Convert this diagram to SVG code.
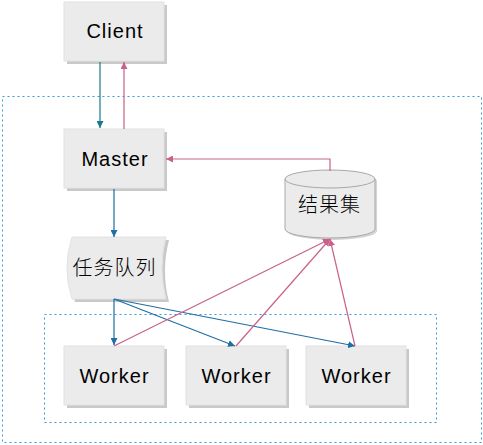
<svg xmlns="http://www.w3.org/2000/svg" width="483" height="445" viewBox="0 0 483 445">
<style>
.box{fill:#ebebeb;stroke:#e2e2e2;stroke-width:1}
.sh{fill:#c9c9c9}
.t{font-family:"Liberation Sans",Arial,sans-serif;font-size:20px;letter-spacing:1px;fill:#000;text-anchor:middle}
.c{font-family:"Noto Sans CJK SC",sans-serif;font-weight:300;font-size:20px;letter-spacing:1px;fill:#000;text-anchor:middle}
.dot{fill:none;stroke:#3a9ad9;stroke-width:1;stroke-dasharray:2 3}
.b{fill:none;stroke:#1f6fa5;stroke-width:1.2}
.tl{fill:none;stroke:#1a7a8c;stroke-width:1.2}
.p{fill:none;stroke:#c8628a;stroke-width:1.2}
</style>
<defs>
<marker id="ab" viewBox="0 0 10 10" refX="10" refY="5" markerWidth="7" markerHeight="7" markerUnits="userSpaceOnUse" orient="auto"><path d="M0,0L10,5L0,10z" fill="#1f6fa5"/></marker>
<marker id="at" viewBox="0 0 10 10" refX="10" refY="5" markerWidth="7" markerHeight="7" markerUnits="userSpaceOnUse" orient="auto"><path d="M0,0L10,5L0,10z" fill="#1a7a8c"/></marker>
<marker id="ap" viewBox="0 0 10 10" refX="10" refY="5" markerWidth="7" markerHeight="7" markerUnits="userSpaceOnUse" orient="auto"><path d="M0,0L10,5L0,10z" fill="#c8628a"/></marker>
</defs>
<rect class="dot" x="2.5" y="96.5" width="479" height="346"/>
<rect class="dot" x="44.5" y="314.5" width="392" height="108"/>
<g id="client"><rect class="sh" x="67" y="5" width="100" height="59"/><rect class="box" x="64" y="2" width="100" height="59"/><text class="t" x="115" y="38">Client</text></g>
<g id="master"><rect class="sh" x="67" y="132" width="100" height="59"/><rect class="box" x="64" y="129" width="100" height="59"/><text class="t" x="115" y="166">Master</text></g>
<g id="queue"><path class="sh" d="M75,240H169Q161,271 169,302H75Q65,271 75,240z"/><path class="box" d="M72,237H166Q158,268 166,299H72Q62,268 72,237z"/><text class="c" x="114.5" y="275">任务队列</text></g>
<g id="result"><path d="M287,181A45,9 0 0 1 377,181V231A45,9 0 0 1 287,231z" fill="#d4d4d4"/><path d="M285,179A45,9 0 0 1 375,179V229A45,9 0 0 1 285,229z" fill="#ebebeb" stroke="#a8a8a8" stroke-width="1"/><path d="M285,179A45,9 0 0 0 375,179" fill="none" stroke="#a8a8a8" stroke-width="1"/><text class="c" x="329.5" y="212">结果集</text></g>
<g id="worker1"><rect class="sh" x="67" y="349" width="100" height="59"/><rect class="box" x="64" y="346" width="100" height="59"/><text class="t" x="114.5" y="383">Worker</text></g>
<g id="worker2"><rect class="sh" x="189" y="349" width="100" height="59"/><rect class="box" x="186" y="346" width="100" height="59"/><text class="t" x="236.5" y="383">Worker</text></g>
<g id="worker3"><rect class="sh" x="309" y="349" width="100" height="59"/><rect class="box" x="306" y="346" width="100" height="59"/><text class="t" x="356.5" y="383">Worker</text></g>
<g id="connectors">
<line class="tl" x1="100" y1="62" x2="100" y2="128" marker-end="url(#at)"/>
<line class="p" x1="124" y1="129" x2="124" y2="62" marker-end="url(#ap)"/>
<polyline class="p" points="330,171 330,159 166,159" marker-end="url(#ap)"/>
<line class="b" x1="114" y1="189" x2="114" y2="237" marker-end="url(#ab)"/>
<line class="b" x1="114" y1="299" x2="114" y2="345" marker-end="url(#ab)"/>
<line class="b" x1="114" y1="299" x2="235" y2="346" marker-end="url(#ab)"/>
<line class="b" x1="114" y1="299" x2="355" y2="346" marker-end="url(#ab)"/>
<line class="p" x1="114" y1="346" x2="330" y2="239" marker-end="url(#ap)"/>
<line class="p" x1="236" y1="346" x2="330" y2="239" marker-end="url(#ap)"/>
<line class="p" x1="355" y1="346" x2="330" y2="239" marker-end="url(#ap)"/>
</g>
</svg>
